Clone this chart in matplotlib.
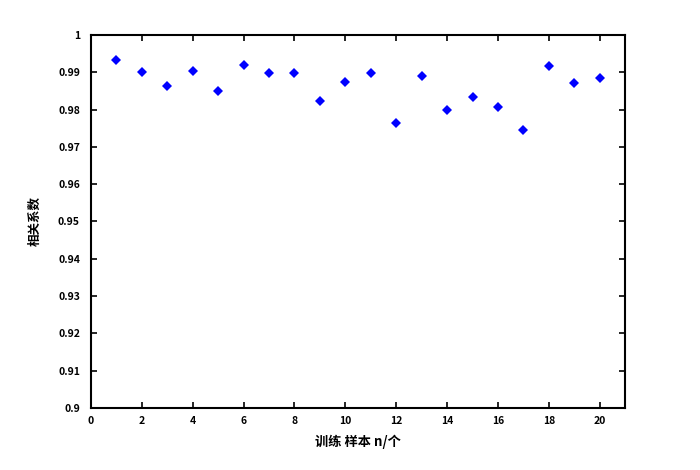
import numpy as np
import matplotlib.pyplot as plt

plt.rcParams['font.family'] = ['Noto Sans CJK SC', 'DejaVu Sans']

# sample index and correlation values
n = np.arange(1, 21)
r = [0.9933, 0.9901, 0.9863, 0.9903, 0.9850, 0.9920, 0.9898, 0.9898, 0.9823, 0.9874,
     0.9898, 0.9764, 0.9889, 0.9800, 0.9834, 0.9807, 0.9745, 0.9917, 0.9871, 0.9885]

yticks = np.round(np.arange(0.9, 1.0001, 0.01), 2)
ylabels = ['0.9'] + ['%.2f' % v for v in yticks[1:-1]] + ['1']

fig = plt.figure(figsize=(7, 4.7), dpi=100)
ax = fig.add_axes([0.13, 0.132, 0.763, 0.7935])
ax.plot(n, r, 'D', color='#0000ff', markersize=5.5, markeredgewidth=0)

ax.set_xlim(0, 21)
ax.set_ylim(0.9, 1.0)
ax.set_xticks(np.arange(0, 21, 2))
ax.set_yticks(yticks)
ax.set_yticklabels(ylabels)
ax.tick_params(direction='in', top=True, right=True, labelsize=7.5, width=1.2, length=4)
ax.tick_params(axis='y', pad=8)
ax.tick_params(axis='x', pad=6)
for lab in ax.get_xticklabels() + ax.get_yticklabels():
    lab.set_fontweight('bold')
for s in ax.spines.values():
    s.set_linewidth(1.5)

ax.set_xlabel('训练 样本 n/个', fontsize=9.5, fontweight='bold', labelpad=6)
ax.set_ylabel('相关系数', fontsize=9, fontweight='bold', labelpad=12)

fig.savefig('out.png', dpi=100)
